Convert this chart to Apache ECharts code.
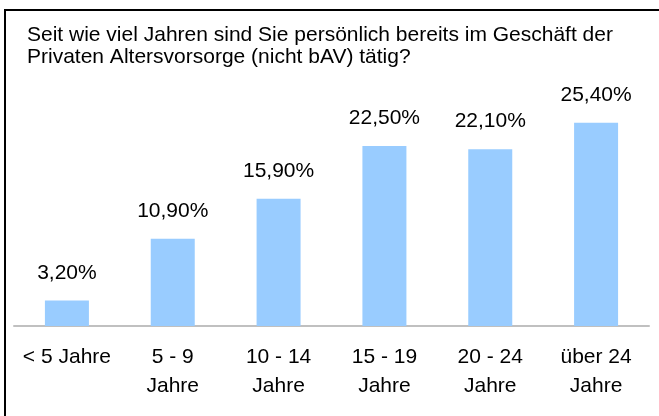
<!DOCTYPE html>
<html>
<head>
<meta charset="utf-8">
<script src="https://cdn.jsdelivr.net/npm/echarts@6/dist/echarts.min.js"></script>
<style>
  html, body { margin: 0; padding: 0; background: #fff; }
  #chart { width: 659px; height: 416px; }
</style>
</head>
<body>
<div id="chart"></div>
<script>
var titleText = 'Seit wie viel Jahren sind Sie persönlich bereits im Geschäft der\nPrivaten Altersvorsorge (nicht bAV) tätig?'
var categories = ['< 5 Jahre', '5 - 9\nJahre', '10 - 14\nJahre', '15 - 19\nJahre', '20 - 24\nJahre', 'über 24\nJahre']
var values = [3.2, 10.9, 15.9, 22.5, 22.1, 25.4]

var font = 'Liberation Sans, Arial, sans-serif'

var chart = echarts.init(document.getElementById('chart'))
var option = {
  backgroundColor: '#fff',
  animation: false,
  title: {
    text: titleText,
    left: 27,
    top: 24,
    padding: 0,
    textStyle: {
      fontFamily: font,
      fontSize: 21,
      fontWeight: 'normal',
      color: '#000',
      lineHeight: 22
    }
  },
  graphic: [
    {
      type: 'rect',
      shape: { x: 5, y: 10, width: 700, height: 500 },
      style: { fill: 'none', stroke: '#000', lineWidth: 2 },
      silent: true
    }
  ],
  grid: {
    left: 14,
    right: 10,
    top: 86,
    bottom: 90
  },
  xAxis: {
    type: 'category',
    data: categories,
    axisTick: { show: false },
    axisLine: { lineStyle: { color: '#c0c0c0', width: 2 } },
    axisLabel: {
      interval: 0,
      margin: 17,
      color: '#000',
      fontFamily: font,
      fontSize: 21,
      lineHeight: 29
    }
  },
  yAxis: {
    type: 'value',
    min: 0,
    max: 30,
    show: false,
    splitLine: { show: false }
  },
  series: [
    {
      type: 'bar',
      data: values,
      barWidth: 44,
      itemStyle: { color: '#99ccff' },
      label: {
        show: true,
        position: 'top',
        distance: 17,
        color: '#000',
        fontFamily: font,
        fontSize: 21,
        lineHeight: 21,
        formatter: function (p) {
          return p.value.toFixed(2).replace('.', ',') + '%'
        }
      }
    }
  ]
}
chart.setOption(option)
</script>
</body>
</html>
